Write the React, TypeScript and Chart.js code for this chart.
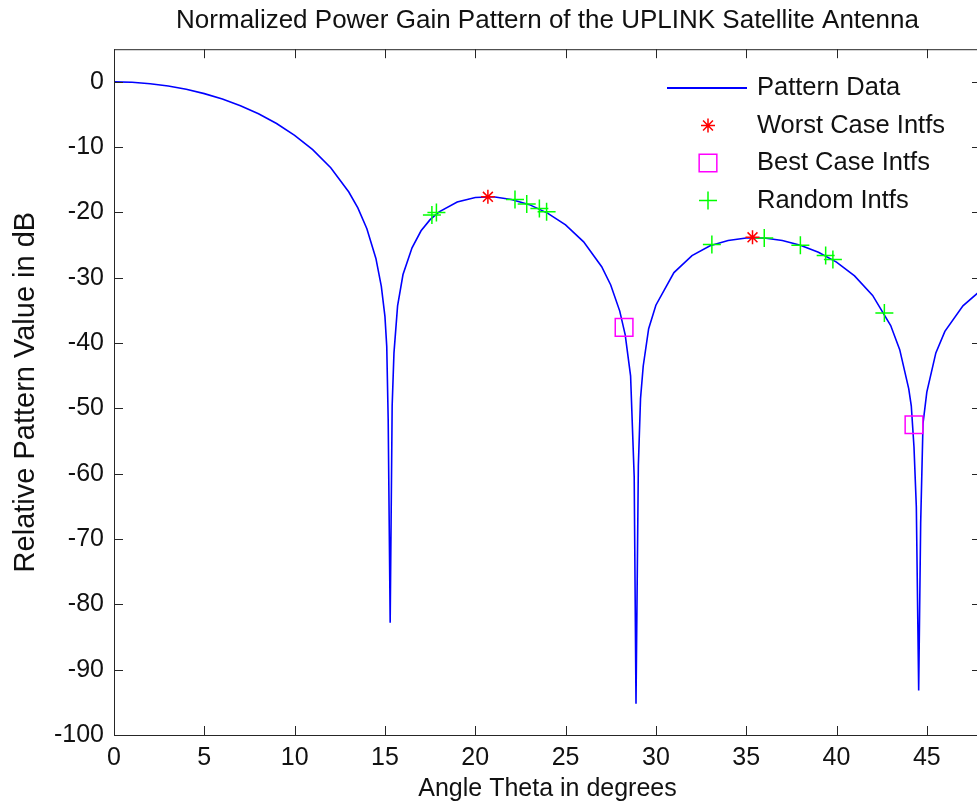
import React, { useEffect, useRef } from "react";
import { Chart, registerables } from "chart.js";
import { drawPoint } from "chart.js/helpers";

Chart.register(...registerables);

const chartTitle = "Normalized Power Gain Pattern of the UPLINK Satellite Antenna";
const xAxisTitle = "Angle Theta in degrees";
const yAxisTitle = "Relative Pattern Value in dB";
const legendLabels = ["Pattern Data", "Worst Case Intfs", "Best Case Intfs", "Random Intfs"];

const patternTheta = [
  0, 1, 2, 3, 4, 5, 6, 7, 8, 9, 10, 11, 12, 13, 13.5, 14, 14.5, 14.8, 15, 15.1, 15.18, 15.29, 15.4, 15.5,
  15.7, 16, 16.5, 17, 17.5, 18, 19, 20, 21, 22, 23, 24, 25, 26, 27, 27.5, 28, 28.3, 28.6, 28.8, 28.9, 29.03,
  29.15, 29.3, 29.6, 30, 31, 32, 33, 34, 35, 36, 37, 38, 39, 40, 41, 42, 43, 43.5, 44, 44.14, 44.29, 44.42,
  44.55, 44.66, 44.79, 45, 45.5, 46, 47, 48,
];
const patternDb = [
  0, -0.07, -0.28, -0.63, -1.14, -1.8, -2.63, -3.66, -4.89, -6.38, -8.18, -10.39, -13.15, -16.87, -19.31,
  -22.48, -27.04, -31.3, -35.9, -40.5, -51.7, -82.8, -49.6, -41.5, -34.3, -29.5, -25.4, -22.8, -21.1, -19.9,
  -18.4, -17.7, -17.6, -18.0, -18.8, -20.1, -21.9, -24.5, -28.3, -31.1, -35.1, -38.7, -45.0, -60.5, -95.2,
  -58.7, -48.5, -43.5, -37.8, -34.2, -29.2, -26.6, -25.1, -24.3, -23.9, -23.9, -24.3, -25.0, -26.1, -27.6,
  -29.7, -32.7, -37.3, -41.0, -47.0, -49.6, -55.9, -65.1, -93.2, -67.6, -52.3, -47.5, -41.5, -38.2, -34.3,
  -31.9,
];

const worstTheta = [20.7, 35.35];
const worstDb = [-17.6, -23.8];

const bestTheta = [28.24, 44.29];
const bestDb = [-37.6, -52.5];

const randomTheta = [17.6, 17.85, 22.2, 22.85, 23.55, 23.95, 33.1, 36.0, 38.0, 39.4, 39.8, 42.65];
const randomDb = [-20.4, -20.0, -18.0, -18.7, -19.4, -19.9, -24.9, -23.9, -25.0, -26.6, -27.2, -35.4];

const xTicks = [0, 5, 10, 15, 20, 25, 30, 35, 40, 45];
const yTicks = [-100, -90, -80, -70, -60, -50, -40, -30, -20, -10, 0];
const X_MIN = 0;
const X_MAX = 48;
const Y_MIN = -100;
const Y_MAX = 5;

const FONT = "'Liberation Sans', Arial, Helvetica, sans-serif";
const AXIS_COLOR = "#262626";
const TEXT_COLOR = "#111111";
const BLUE = "#0000ff";
const RED = "#ff0000";
const MAGENTA = "#ff00ff";
const GREEN = "#00ff00";
const TICK_LEN = 9;

const toPoints = (xs: number[], ys: number[]) => xs.map((x, i) => ({ x, y: ys[i] }));

const framePlugin = {
  id: "matlabFrame",
  afterDatasetsDraw(chart: any) {
    const { ctx, chartArea: a, scales } = chart;
    ctx.save();
    ctx.strokeStyle = AXIS_COLOR;
    ctx.lineWidth = 1;
    ctx.strokeRect(a.left + 0.5, a.top + 0.5, a.right - a.left, a.bottom - a.top);
    ctx.beginPath();
    scales.x.ticks.forEach((t: any) => {
      const px = Math.round(scales.x.getPixelForValue(t.value)) + 0.5;
      ctx.moveTo(px, a.bottom);
      ctx.lineTo(px, a.bottom - TICK_LEN);
      ctx.moveTo(px, a.top);
      ctx.lineTo(px, a.top + TICK_LEN);
    });
    scales.y.ticks.forEach((t: any) => {
      const py = Math.round(scales.y.getPixelForValue(t.value)) + 0.5;
      ctx.moveTo(a.left, py);
      ctx.lineTo(a.left + TICK_LEN, py);
      ctx.moveTo(a.right, py);
      ctx.lineTo(a.right - TICK_LEN, py);
    });
    ctx.stroke();

    // legend
    const lineX0 = 667;
    const lineX1 = 747;
    const markX = 708;
    const textX = 757;
    const rows = [88, 125.5, 163, 200.5];
    ctx.font = `25.5px ${FONT}`;
    ctx.fillStyle = TEXT_COLOR;
    ctx.textAlign = "left";
    ctx.textBaseline = "middle";
    legendLabels.forEach((label, i) => {
      ctx.fillText(label, textX, rows[i]);
    });
    ctx.strokeStyle = BLUE;
    ctx.lineWidth = 2;
    ctx.beginPath();
    ctx.moveTo(lineX0, rows[0]);
    ctx.lineTo(lineX1, rows[0]);
    ctx.stroke();
    const styles = [
      { pointStyle: "star", radius: 7, borderWidth: 1.5, color: RED },
      { pointStyle: "rect", radius: 12.5, borderWidth: 1.5, color: MAGENTA },
      { pointStyle: "cross", radius: 9, borderWidth: 1.5, color: GREEN },
    ];
    styles.forEach((s, i) => {
      ctx.strokeStyle = s.color;
      ctx.fillStyle = "rgba(0,0,0,0)";
      ctx.lineWidth = s.borderWidth;
      drawPoint(ctx, { pointStyle: s.pointStyle as any, radius: s.radius, borderWidth: s.borderWidth, rotation: 0 } as any, markX, rows[i + 1]);
    });
    ctx.restore();
  },
};

export default function App() {
  const ref = useRef<HTMLCanvasElement>(null);

  useEffect(() => {
    const canvas = ref.current;
    if (!canvas) return;
    const chart = new Chart(canvas, {
      type: "scatter",
      data: {
        datasets: [
          {
            label: legendLabels[0],
            data: toPoints(patternTheta, patternDb),
            showLine: true,
            borderColor: BLUE,
            backgroundColor: BLUE,
            borderWidth: 1.6,
            pointRadius: 0,
            tension: 0,
            order: 4,
          },
          {
            label: legendLabels[1],
            data: toPoints(worstTheta, worstDb),
            pointStyle: "star",
            pointRadius: 7,
            borderColor: RED,
            backgroundColor: RED,
            borderWidth: 1.5,
            showLine: false,
            order: 1,
          },
          {
            label: legendLabels[2],
            data: toPoints(bestTheta, bestDb),
            pointStyle: "rect",
            pointRadius: 12.5,
            borderColor: MAGENTA,
            backgroundColor: "rgba(0,0,0,0)",
            borderWidth: 1.5,
            showLine: false,
            order: 2,
          },
          {
            label: legendLabels[3],
            data: toPoints(randomTheta, randomDb),
            pointStyle: "cross",
            pointRadius: 9,
            borderColor: GREEN,
            backgroundColor: GREEN,
            borderWidth: 1.5,
            showLine: false,
            order: 3,
          },
        ],
      },
      options: {
        responsive: false,
        animation: false,
        devicePixelRatio: 1,
        layout: { padding: { left: 0, right: 19, top: 0, bottom: 0 } },
        plugins: {
          legend: { display: false },
          tooltip: { enabled: false },
          title: {
            display: true,
            text: chartTitle,
            fullSize: false,
            color: TEXT_COLOR,
            font: { family: FONT, size: 26, weight: "normal" },
            padding: { top: 5, bottom: 13 },
          },
        },
        scales: {
          x: {
            type: "linear",
            min: X_MIN,
            max: X_MAX,
            grid: { display: false, drawTicks: false },
            border: { display: false },
            afterBuildTicks: (s: any) => {
              s.ticks = xTicks.map((v) => ({ value: v }));
            },
            afterFit: (s: any) => {
              s.height = 75;
            },
            ticks: {
              autoSkip: false,
              maxRotation: 0,
              padding: 8,
              color: TEXT_COLOR,
              font: { family: FONT, size: 25 },
              callback: (v: any) => String(v),
            },
            title: {
              display: true,
              text: xAxisTitle,
              color: TEXT_COLOR,
              font: { family: FONT, size: 25 },
              padding: { top: 0, bottom: 6 },
            },
          },
          y: {
            type: "linear",
            min: Y_MIN,
            max: Y_MAX,
            grid: { display: false, drawTicks: false },
            border: { display: false },
            afterBuildTicks: (s: any) => {
              s.ticks = yTicks.map((v) => ({ value: v }));
            },
            afterFit: (s: any) => {
              s.width = 114;
            },
            ticks: {
              autoSkip: false,
              padding: 10,
              color: TEXT_COLOR,
              font: { family: FONT, size: 25 },
              callback: (v: any) => String(v),
            },
            title: {
              display: true,
              text: yAxisTitle,
              color: TEXT_COLOR,
              font: { family: FONT, size: 29 },
              padding: { top: 9, bottom: 0 },
            },
          },
        },
      },
      plugins: [framePlugin],
    });
    return () => chart.destroy();
  }, []);

  return (
    <div
      style={{
        position: "fixed",
        left: 0,
        top: 0,
        width: 977,
        height: 810,
        overflow: "hidden",
        background: "#ffffff",
      }}
    >
      <canvas ref={ref} width={1000} height={810} style={{ display: "block", width: 1000, height: 810 }} />
    </div>
  );
}
